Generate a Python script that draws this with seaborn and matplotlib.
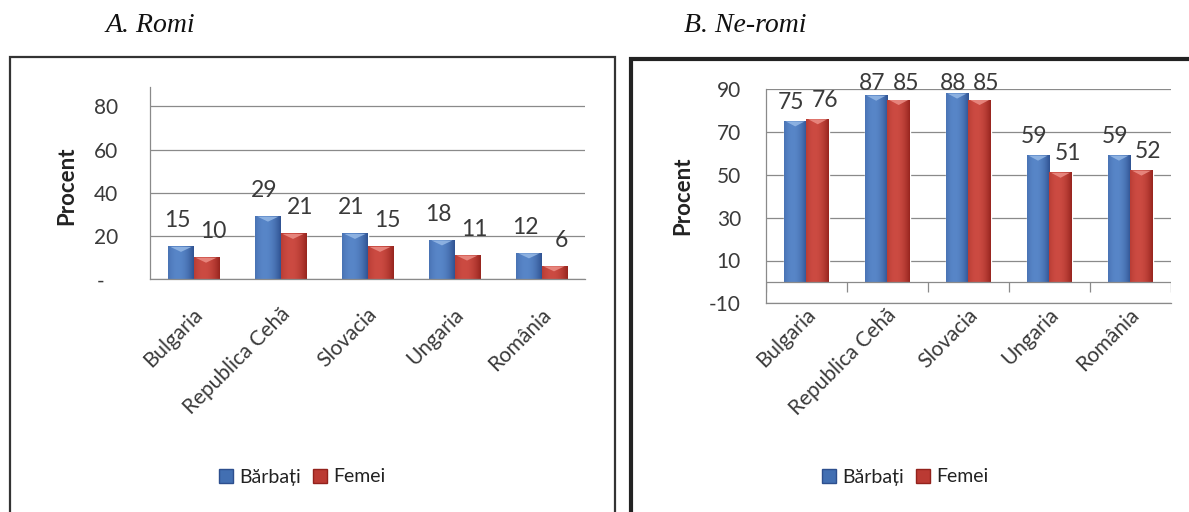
import numpy as np
import pandas as pd
import matplotlib
matplotlib.use("Agg")
import matplotlib.pyplot as plt
import matplotlib.transforms as mtransforms
from matplotlib.patches import Rectangle, Polygon, Patch
import seaborn as sns

# ---- data ----
countries = ["Bulgaria", "Republica Cehă", "Slovacia", "Ungaria", "România"]
series = ["Bărbați", "Femei"]
romi_barbati = [15, 29, 21, 18, 12]
romi_femei = [10, 21, 15, 11, 6]
neromi_barbati = [75, 87, 88, 59, 59]
neromi_femei = [76, 85, 85, 51, 52]
romi_yticks = [0, 20, 40, 60, 80]
romi_yticklabels = ["-", "20", "40", "60", "80"]
neromi_yticks = [-10, 10, 30, 50, 70, 90]
panel_titles = ["A. Romi", "B. Ne-romi"]
ylabel = "Procent"

BLUE = "#426fb2"
RED = "#bb3a33"
BLUE_EDGE, BLUE_MID, BLUE_TOP = "#2d4f8e", "#5886c8", "#96b9e6"
RED_EDGE, RED_MID, RED_TOP = "#93221c", "#cc4b42", "#ec8f87"
AXIS = "#8a8a8a"
TEXT = "#3a3a3a"

sns.set_theme(style="white")
plt.rcParams["font.family"] = ["Lato", "DejaVu Sans"]
plt.rcParams["axes.unicode_minus"] = False

W, H = 1189, 512
fig = plt.figure(figsize=(W / 100, H / 100), dpi=100)


def ax_rect(x0, x1, ytop, ybot):
    return [x0 / W, 1 - ybot / H, (x1 - x0) / W, (ybot - ytop) / H]


def long_frame(m, f):
    return pd.DataFrame({
        "Țara": countries * 2,
        "Sex": [series[0]] * len(countries) + [series[1]] * len(countries),
        "Procent": list(m) + list(f),
    })


def mix(c1, c2, t):
    a = np.array(matplotlib.colors.to_rgb(c1))
    b = np.array(matplotlib.colors.to_rgb(c2))
    return a + (b - a) * t


def shade_bars(ax, px_per_unit):
    """Cylinder-like shading and a bevelled top on every bar."""
    styles = [(BLUE_EDGE, BLUE_MID, BLUE_TOP), (RED_EDGE, RED_MID, RED_TOP)]
    t = np.linspace(0, 1, 64)
    prof = np.clip(1 - ((t - 0.38) / 0.64) ** 2, 0, 1)
    for cont, (edge, mid, top) in zip(ax.containers, styles):
        grad = np.array([mix(edge, mid, p) for p in prof])[None, :, :]
        for r in cont:
            x0, y0 = r.get_xy()
            w, h = r.get_width(), r.get_height()
            ax.imshow(grad, extent=[x0, x0 + w, y0, y0 + h], aspect="auto",
                      interpolation="bilinear", zorder=r.get_zorder() + 0.1)
            d = 5 / px_per_unit
            ytop = y0 + h
            ax.add_patch(Polygon([(x0 + 0.08 * w, ytop), (x0 + 0.92 * w, ytop),
                                  (x0 + 0.5 * w, ytop - d)], closed=True,
                                 facecolor=top, edgecolor="none", alpha=0.85,
                                 zorder=r.get_zorder() + 0.2))


def label_bars(ax, m, f, above, cap=None):
    offs = [-4, 7]  # pixels
    for k, vals in enumerate([m, f]):
        tr = mtransforms.offset_copy(ax.transData, fig=fig, x=offs[k], y=0, units="dots")
        for i, v in enumerate(vals):
            xc = ax.containers[k][i].get_x() + ax.containers[k][i].get_width() / 2
            y = v + above
            if cap is not None:
                y = min(y, cap)
            ax.text(xc, y, f"{v}", transform=tr, ha="center", va="center",
                    fontsize=16.5, color=TEXT, zorder=5)


def style_common(ax, ylab_pos):
    sns.despine(ax=ax, top=True, right=True)
    ax.set_xlabel("")
    ax.set_ylabel(ylabel, fontsize=16, fontweight="bold", color="#222222")
    ax.yaxis.label.set_va("center")
    ax.yaxis.set_label_coords(*ylab_pos)
    ax.grid(axis="y", color=AXIS, lw=0.9)
    ax.set_axisbelow(True)
    ax.spines["left"].set_color(AXIS)
    ax.spines["bottom"].set_color(AXIS)
    ax.spines["left"].set_linewidth(0.9)
    ax.spines["bottom"].set_linewidth(0.9)
    ax.set_xlim(-0.5, len(countries) - 0.5)
    ax.tick_params(axis="y", which="major", length=7, width=0.9, color=AXIS,
                   direction="out", labelsize=15, labelcolor=TEXT)
    ax.tick_params(axis="x", which="major", length=0, labelsize=15, labelcolor=TEXT)
    ax.set_xticks(range(len(countries)))
    ax.set_xticklabels(countries, rotation=45, ha="right", va="center",
                       rotation_mode="anchor")


# ---- A. Romi ----
axA = fig.add_axes(ax_rect(150, 585, 87, 279.3))
sns.barplot(data=long_frame(romi_barbati, romi_femei), x="Țara", y="Procent",
            hue="Sex", palette=[BLUE, RED], width=0.576, gap=0, saturation=1,
            legend=False, ax=axA)
axA.set_ylim(0, 89)
axA.set_yticks(romi_yticks)
axA.set_yticklabels(romi_yticklabels)
style_common(axA, (-0.191, 0.485))
axA.tick_params(axis="y", pad=16)
axA.tick_params(axis="x", pad=23)
axA.set_xticks(np.arange(-0.5, len(countries), 1), minor=True)
axA.tick_params(axis="x", which="minor", length=6, width=0.9, color=AXIS, direction="out")
shade_bars(axA, 2.157)
axA.set_xlim(-0.5, len(countries) - 0.5)
axA.set_ylim(0, 89)
label_bars(axA, romi_barbati, romi_femei, above=12.1)
zero_lab = axA.get_yticklabels()[0]
zero_lab.set_transform(zero_lab.get_transform() +
                       mtransforms.ScaledTranslation(-14 / 100, 0, fig.dpi_scale_trans))
for lab in axA.get_xticklabels():
    lab.set_transform(lab.get_transform() +
                      mtransforms.ScaledTranslation(6 / 100, 0, fig.dpi_scale_trans))

# ---- B. Ne-romi ----
axB = fig.add_axes(ax_rect(766, 1170.7, 89.3, 303.3))
sns.barplot(data=long_frame(neromi_barbati, neromi_femei), x="Țara", y="Procent",
            hue="Sex", palette=[BLUE, RED], width=0.556, gap=0, saturation=1,
            legend=False, ax=axB)
axB.set_ylim(-10, 90)
axB.set_yticks(neromi_yticks)
style_common(axB, (-0.205, 0.501))
axB.tick_params(axis="y", pad=11)
axB.tick_params(axis="x", pad=6)
axB.axhline(0, color=AXIS, lw=0.9, zorder=1.5)
axB.vlines(np.arange(-0.5, len(countries), 1), -4.5, 0, color=AXIS, lw=0.9, zorder=1.5)
shade_bars(axB, 2.135)
axB.set_xlim(-0.5, len(countries) - 0.5)
axB.set_ylim(-10, 90)
label_bars(axB, neromi_barbati, neromi_femei, above=8.9, cap=92.6)
for lab in axB.get_xticklabels():
    lab.set_transform(lab.get_transform() +
                      mtransforms.ScaledTranslation(6 / 100, 0, fig.dpi_scale_trans))

# ---- legends ----
handles = [Patch(facecolor=BLUE, edgecolor=BLUE_EDGE), Patch(facecolor=RED, edgecolor=RED_EDGE)]
for cx in (302, 905):
    fig.legend(handles, series, loc="center", bbox_to_anchor=(cx / W, 1 - 477 / H),
               ncol=2, frameon=False, fontsize=14, handlelength=0.75, handleheight=0.75,
               handletextpad=0.3, columnspacing=0.6, labelcolor="#222222")

# ---- panel frames ----
fig.patches.append(Rectangle((10 / W, -0.05), 605 / W, 1.05 - 57 / H, fill=False,
                             edgecolor="#333333", lw=1.6, transform=fig.transFigure,
                             figure=fig))
fig.patches.append(Rectangle((631 / W, -0.05), 0.6, 1.05 - 59 / H, fill=False,
                             edgecolor="#222222", lw=3.0, transform=fig.transFigure,
                             figure=fig))

# ---- panel titles ----
for cx, title in zip((150, 745), panel_titles):
    fig.text(cx / W, 1 - 25 / H, title, ha="center", va="center", fontsize=20,
             style="italic", family=["Liberation Serif", "DejaVu Serif"], color="#111111")

fig.savefig("out.png", dpi=100)
